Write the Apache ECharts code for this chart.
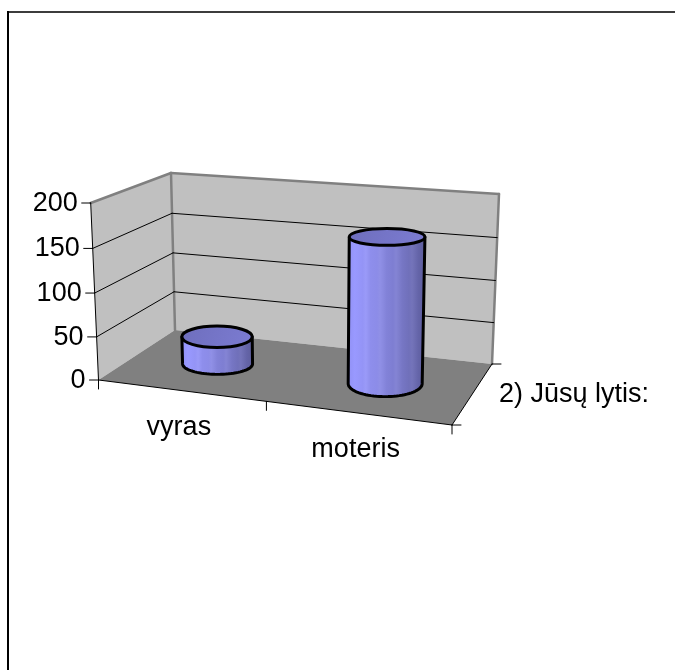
<!DOCTYPE html>
<html>
<head>
<meta charset="utf-8">
<style>html,body{margin:0;padding:0;background:#fff}#c{width:675px;height:670px}</style>
<script src="https://cdn.jsdelivr.net/npm/echarts@6/dist/echarts.min.js"></script>
</head>
<body>
<div id="c"></div>
<script>
const categories = ['vyras', 'moteris'];
const values = [34, 168];
const valueTicks = [0, 50, 100, 150, 200];
const categoryTicks = [0, 0.475, 1];
const depthAxisName = '2) Jūsų lytis:';

const FONT = '"Liberation Sans", Arial, sans-serif';
const FS = 27;
const G = {left: 100, top: 200, width: 400, height: 200};
// measured corners of the oblique box
const F0 = [98.5, 380], F1 = [452, 425], B0 = [175, 330], B1 = [492, 364];
const F0T = [90.7, 203], F1T = [455, 235], B0T = [171, 173], B1T = [499, 194];
const lerp = (a, b, t) => [a[0] + (b[0] - a[0]) * t, a[1] + (b[1] - a[1]) * t];
function P(u, v, w) {
  const vv = v - 0.035 * v * (1 - v);
  const bot = lerp(lerp(F0, F1, u), lerp(B0, B1, u), w);
  const top = lerp(lerp(F0T, F1T, u), lerp(B0T, B1T, u), w);
  return lerp(bot, top, vv);
}
// plane position from the axis scales
function uv(api, cat, val) {
  const c = api.coord([cat, val]);
  return [(c[0] - G.left) / G.width, (G.top + G.height - c[1]) / G.height];
}
const line = (a, b, stroke, lineWidth, z2) => ({
  type: 'line', z2: z2 || 0,
  shape: {x1: a[0], y1: a[1], x2: b[0], y2: b[1]},
  style: {stroke, lineWidth, lineCap: 'round'}
});
const poly = (pts, fill) => ({type: 'polygon', shape: {points: pts}, style: {fill}});
const label = (text, x, y, align) => ({
  type: 'text',
  style: {text, x, y, fill: '#000', fontSize: FS, fontFamily: FONT, align, verticalAlign: 'middle'}
});

function renderBox() {
  const gray = '#808080';
  return {type: 'group', children: [
    poly([F0T, B0T, B0, F0], '#c0c0c0'),
    poly([B0T, B1T, B1, B0], '#c0c0c0'),
    poly([F0, B0, B1, F1], gray),
    line(F0T, B0T, gray, 2.5), line(B0T, B1T, gray, 2.5),
    line(B1T, B1, gray, 2.5), line(B0T, B0, gray, 2.5),
    line(F0T, F0, '#000', 1),
    line(F0, F1, '#000', 1), line(F1, B1, '#000', 1),
    line(F1, [F1[0] + 9, F1[1]], '#000', 1),
    line(B1, [B1[0] + 9, B1[1]], '#000', 1),
    label(depthAxisName, 499, P(1, 0, 0.5)[1], 'left')
  ]};
}
function renderValueTick(params, api) {
  const val = api.value(1);
  const v = uv(api, 0, val)[1];
  const a = P(0, v, 0), b = P(0, v, 1), c = P(1, v, 1);
  const kids = [];
  if (v > 0 && v < 1) kids.push(line(a, b, '#000', 1), line(b, c, '#000', 1));
  kids.push(line(a, [a[0] - 9, a[1]], '#000', 1));
  kids.push(label(String(val), a[0] - 13, a[1] + 0.5, 'right'));
  return {type: 'group', children: kids};
}
function renderCategoryTick(params, api) {
  const a = P(api.value(1), 0, 0);
  return line(a, [a[0], a[1] + 9], '#000', 1);
}
function ellipsePts(c, rx, ry, from, to, n) {
  const out = [];
  for (let i = 0; i <= n; i++) {
    const t = from + (to - from) * i / n;
    out.push([c[0] + rx * Math.cos(t), c[1] + ry * Math.sin(t)]);
  }
  return out;
}
function renderBar(params, api) {
  const i = api.value(0), val = api.value(1);
  const q = uv(api, i, val);
  const u = q[0], v = q[1];
  const b = P(u, 0, 0.5), t = P(u, v, 0.5);
  b[0] -= 3; t[0] -= 3; b[1] -= 1;
  const rxB = 35 + 4 * (u - 0.25), rxT = rxB + v;
  const ryB = 10.5 + 5 * (u - 0.25), ryT = ryB - 5.5 * v + 2.2 * (0.75 - u);
  const body = [[t[0] - rxT, t[1]]]
    .concat(ellipsePts(b, rxB, ryB, Math.PI, 0, 40))
    .concat([[t[0] + rxT, t[1]]]);
  const stops = [
    [0, '#8f8ff2'], [0.1, '#9999ff'], [0.2, '#9494f6'], [0.24, '#9a9af8'], [0.3, '#8e8eec'],
    [0.38, '#8c8ce8'], [0.42, '#9090e6'], [0.5, '#8282d8'], [0.58, '#7e7ed2'], [0.62, '#8484d4'],
    [0.7, '#7676c4'], [0.78, '#7070ba'], [0.82, '#7474ba'], [0.9, '#6464a8'], [1, '#5c5c99']
  ].map(s => ({offset: s[0], color: s[1]}));
  return {type: 'group', children: [
    {type: 'polygon', shape: {points: body}, style: {
      fill: new echarts.graphic.LinearGradient(0, 0, 1, 0, stops),
      stroke: '#000', lineWidth: 3, lineJoin: 'round'}},
    {type: 'ellipse', shape: {cx: t[0], cy: t[1], rx: rxT, ry: ryT}, style: {
      fill: new echarts.graphic.LinearGradient(0, 0, 1, 1, [
        {offset: 0, color: '#6e6ebd'}, {offset: 1, color: '#7c7cd2'}]),
      stroke: '#000', lineWidth: 3}}
  ]};
}
function renderCategoryLabel(params, api) {
  const i = api.value(0);
  const u = uv(api, i, 0)[0];
  const a = P(u, 0, 0);
  return label(categories[i], a[0] - 8, a[1] + 36, 'center');
}

const chart = echarts.init(document.getElementById('c'), null, {renderer: 'canvas'});
const common = {type: 'custom', coordinateSystem: 'cartesian2d', silent: true, animation: false, clip: false};
chart.setOption({
  animation: false,
  backgroundColor: '#fff',
  grid: G,
  xAxis: {type: 'category', data: categories, show: false},
  yAxis: {type: 'value', min: 0, max: 200, interval: 50, show: false},
  graphic: [
    {type: 'line', shape: {x1: 8, y1: 12, x2: 675, y2: 12}, style: {stroke: '#3c3c3c', lineWidth: 2}},
    {type: 'line', shape: {x1: 8, y1: 11, x2: 8, y2: 670}, style: {stroke: '#000', lineWidth: 2}}
  ],
  series: [
    Object.assign({}, common, {z: 1, name: 'box', renderItem: renderBox, data: [[0, 0]]}),
    Object.assign({}, common, {z: 2, name: 'valueTicks', renderItem: renderValueTick,
      data: valueTicks.map(t => [0, t]), encode: {x: 0, y: 1}}),
    Object.assign({}, common, {z: 2, name: 'categoryTicks', renderItem: renderCategoryTick,
      data: categoryTicks.map(t => [0, t])}),
    Object.assign({}, common, {z: 3, name: 'values', renderItem: renderBar,
      data: values.map((v, i) => [i, v]), encode: {x: 0, y: 1}}),
    Object.assign({}, common, {z: 3, name: 'categoryLabels', renderItem: renderCategoryLabel,
      data: categories.map((c, i) => [i, 0])})
  ]
});
</script>
</body>
</html>
